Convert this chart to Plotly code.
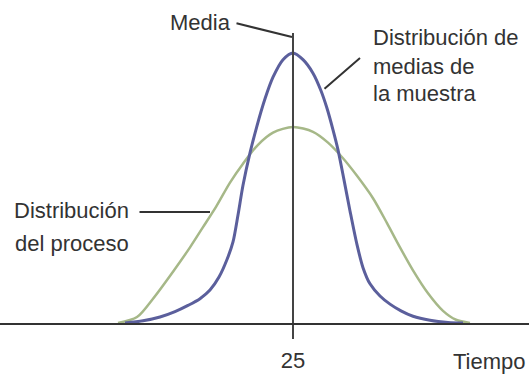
import plotly.graph_objects as go

# curve readings (tiempo, relative height with the sample-mean peak = 1)
tiempo_muestra = [8.2, 10.0, 11.7, 13.2, 14.5, 15.7, 16.7, 17.6, 18.4, 19.0, 19.5, 20.0, 20.7, 21.4, 22.2, 23.0, 24.0, 25.0,
                  26.0, 27.0, 27.8, 28.4, 29.0, 29.5, 30.1, 30.7, 31.4, 32.0, 32.7, 33.7, 34.7, 35.8, 37.0, 38.7, 40.5, 42.0]
altura_muestra = [0.0, 0.008, 0.022, 0.042, 0.065, 0.090, 0.122, 0.170, 0.235, 0.300, 0.400, 0.510, 0.630, 0.730, 0.830, 0.910, 0.975, 1.0,
                  0.975, 0.925, 0.860, 0.795, 0.715, 0.641, 0.530, 0.415, 0.290, 0.205, 0.145, 0.100, 0.070, 0.045, 0.025, 0.010, 0.002, 0.0]

tiempo_proceso = [7.5, 9.4, 11.0, 13.0, 14.7, 16.0, 17.3, 18.7, 20.0, 21.5, 23.0, 25.0,
                  27.0, 28.5, 30.0, 31.4, 33.0, 34.4, 35.7, 37.0, 38.5, 40.0, 41.3, 42.7]
altura_proceso = [0.0, 0.022, 0.090, 0.190, 0.280, 0.355, 0.430, 0.520, 0.590, 0.660, 0.705, 0.726,
                  0.708, 0.668, 0.610, 0.545, 0.462, 0.370, 0.280, 0.195, 0.110, 0.045, 0.012, 0.0]

MEDIA = 25
tick_vals = [MEDIA]
tick_text = ["25"]

FONT = "Liberation Sans, Arial, sans-serif"
INK = "#333333"

fig = go.Figure()
fig.add_trace(go.Scatter(x=tiempo_proceso, y=altura_proceso, mode="lines", line_shape="spline",
                         line=dict(color="#a6b888", width=2.5, smoothing=0.8), hoverinfo="skip"))
fig.add_trace(go.Scatter(x=tiempo_muestra, y=altura_muestra, mode="lines", line_shape="spline",
                         line=dict(color="#5b5f9c", width=3, smoothing=0.8), hoverinfo="skip"))
# mean line
fig.add_trace(go.Scatter(x=[MEDIA, MEDIA], y=[0, 1.074], mode="lines",
                         line=dict(color="#444444", width=2), hoverinfo="skip"))

def leader(x0, y0, x1, y1):
    fig.add_annotation(x=x1, y=y1, ax=x0, ay=y0, axref="x", ayref="y", text="",
                       showarrow=True, arrowhead=0, arrowwidth=2, arrowcolor=INK)

leader(19.2, 1.111, 24.9, 1.059)
leader(28.0, 0.863, 31.7, 0.981)
leader(9.5, 0.411, 16.7, 0.411)

labels = [
    ("Media", 19.0, 1.111, "right"),
    ("Distribución de", 32.8, 1.056, "left"),
    ("medias de", 32.8, 0.948, "left"),
    ("la muestra", 32.8, 0.848, "left"),
    ("Distribución", -3.1, 0.415, "left"),
    ("del proceso", -3.0, 0.293, "left"),
]
for txt, x, y, anchor in labels:
    fig.add_annotation(x=x, y=y, text=txt, showarrow=False, xanchor=anchor, yanchor="middle",
                       font=dict(family=FONT, size=22, color=INK))

# axis title sits below the plot area, so it is placed in paper units
fig.add_annotation(x=48.5, y=-0.118, yref="paper", text="Tiempo", showarrow=False,
                   xanchor="right", yanchor="middle", font=dict(family=FONT, size=22, color=INK))

fig.update_layout(
    width=529, height=377,
    margin=dict(l=0, r=0, t=0, b=54),
    paper_bgcolor="white", plot_bgcolor="white",
    showlegend=False,
    xaxis=dict(range=[-4.3, 48.6], showgrid=False, zeroline=False,
               showline=True, linecolor=INK, linewidth=2,
               ticks="outside", ticklen=14, tickwidth=2, tickcolor="#444444",
               tickvals=tick_vals, ticktext=tick_text, ticklabelstandoff=3,
               tickfont=dict(family=FONT, size=22, color=INK), fixedrange=True),
    yaxis=dict(range=[0, 1.196], visible=False, fixedrange=True),
)

fig.write_html("out.html", config={"displayModeBar": False},
               post_script="document.body.style.margin='0';")
